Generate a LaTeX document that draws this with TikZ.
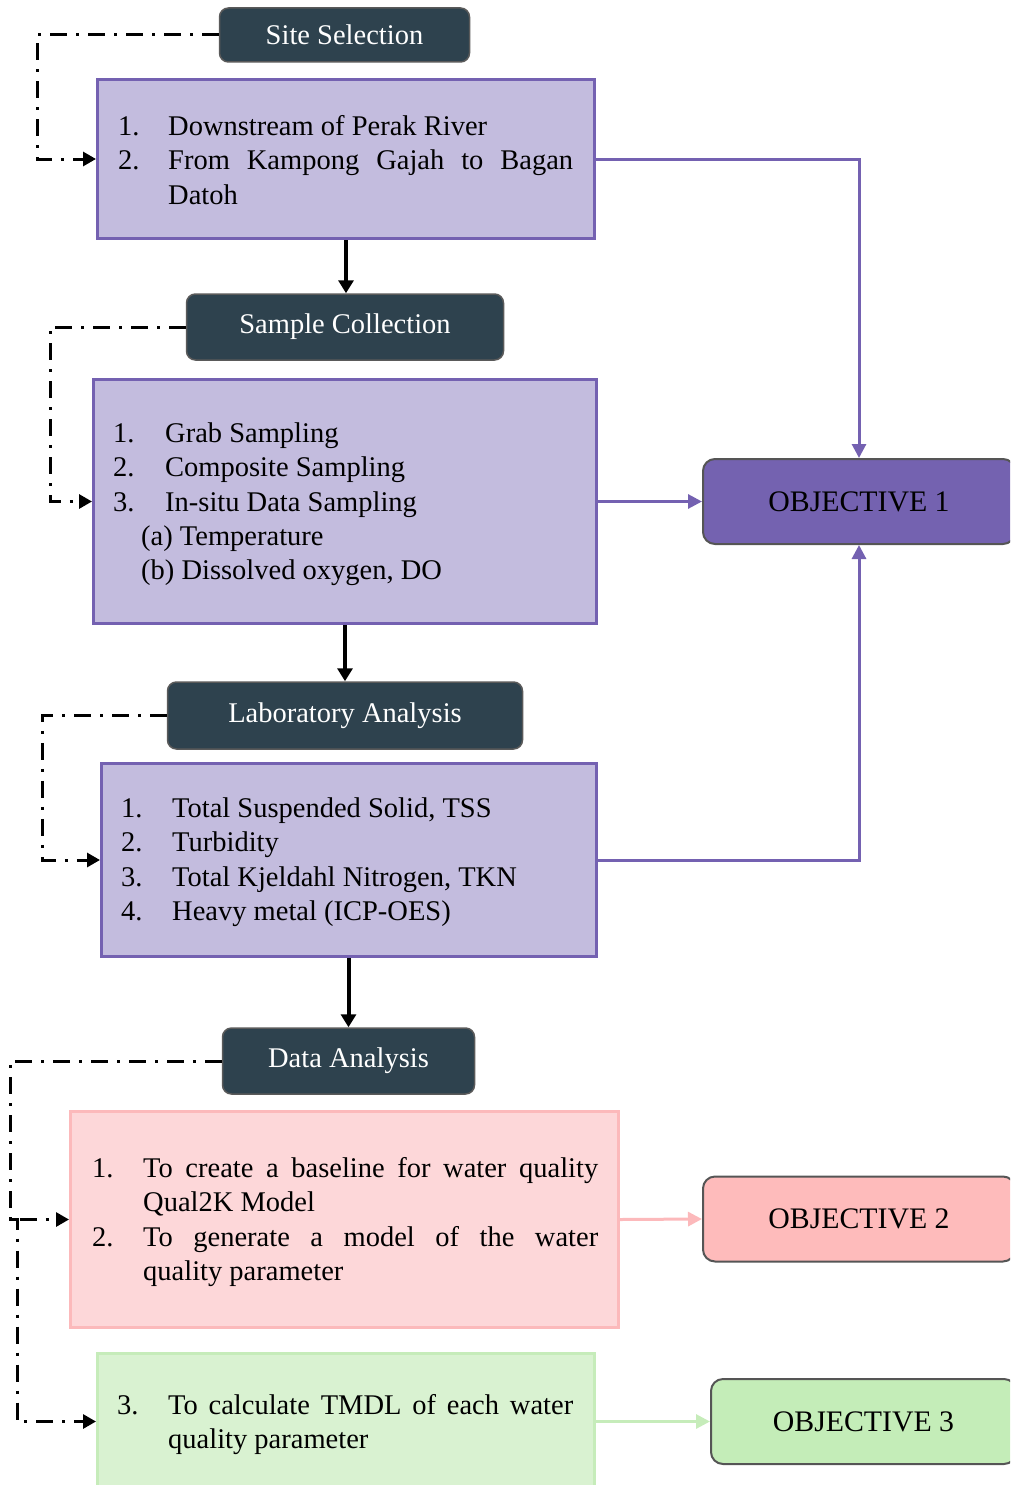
\documentclass[tikz,border=0pt]{standalone}
\usepackage{fontspec}
\setmainfont{Liberation Serif}
\usetikzlibrary{arrows.meta}

\definecolor{hdrfill}{HTML}{2E424E}
\definecolor{hdrline}{HTML}{5A5A5A}
\definecolor{purpfill}{HTML}{C3BCDE}
\definecolor{purpline}{HTML}{7461B1}
\definecolor{objpurp}{HTML}{7462B0}
\definecolor{pinkfill}{HTML}{FDD7D9}
\definecolor{pinkline}{HTML}{FCB9BB}
\definecolor{objpink}{HTML}{FEBBBB}
\definecolor{greenfill}{HTML}{D9F2D1}
\definecolor{greenline}{HTML}{C6ECBA}
\definecolor{objgreen}{HTML}{C4EDB8}
\definecolor{objline}{HTML}{555555}

\newcommand\bodyfont{\fontsize{28.5}{34.3}\selectfont}
\newcommand\objfont{\fontsize{29.8}{34.3}\selectfont}
\newlength\itemhang
% first entry of a list: no paragraph break before it
\newcommand\firstitem[2]{\hangindent=\itemhang\hangafter=1\noindent\makebox[\itemhang][l]{#1}#2}
\newcommand\numitem[2]{\par\hangindent=\itemhang\hangafter=1\noindent\makebox[\itemhang][l]{#1}#2}
\newcommand\subentry[1]{\par\noindent\hspace*{28pt}#1}

\tikzset{
  hdrbox/.style={draw=hdrline, line width=1.5pt, fill=hdrfill, rounded corners=9pt,
    text=white, font=\bodyfont, inner sep=0pt},
  listbox/.style={line width=3pt, inner sep=0pt},
  objbox/.style={draw=objline, line width=2pt, rounded corners=12pt, font=\objfont,
    inner sep=0pt, minimum height=85pt},
  listtext/.style={anchor=base west, inner sep=0pt, font=\bodyfont, align=justify},
  flow/.style={line width=4pt, -{Triangle[length=13pt,width=15pt]}},
  objlink/.style={line width=3pt, -{Triangle[length=14pt,width=14pt]}},
  link/.style={line width=3pt, dash pattern=on 17pt off 9pt on 3pt off 9pt,
    -{Triangle[length=13pt,width=14pt]}},
}

\begin{document}
\begin{tikzpicture}[x=1pt, y=-1pt]
\useasboundingbox (0,0) rectangle (1010,1485);
\clip (0,0) rectangle (1010,1485);
\tolerance=10000 \hbadness=10000

% stage headers
\node[hdrbox, minimum width=250pt, minimum height=54pt] (ss) at (344.5,35) {Site Selection};
\node[hdrbox, minimum width=317pt, minimum height=66pt] (sc) at (345,327) {Sample Collection};
\node[hdrbox, minimum width=355pt, minimum height=67pt] (la) at (345,715.5) {Laboratory Analysis};
\node[hdrbox, minimum width=252pt, minimum height=66pt] (da) at (348.5,1061) {Data Analysis};

% content boxes
\node[listbox, draw=purpline, fill=purpfill, minimum width=497pt, minimum height=159pt] (box1) at (346,159) {};
\node[listbox, draw=purpline, fill=purpfill, minimum width=503pt, minimum height=244pt] (box2) at (345,501.5) {};
\node[listbox, draw=purpline, fill=purpfill, minimum width=495pt, minimum height=193pt] (box3) at (349,860) {};
\node[listbox, draw=pinkline, fill=pinkfill, minimum width=548pt, minimum height=216pt] (box4) at (344.5,1219.5) {};
\node[listbox, draw=greenline, fill=greenfill, minimum width=497pt, minimum height=180pt] (box5) at (346,1443) {};

% objectives
\node[objbox, fill=objpurp, minimum width=312pt] (obj1) at (859,501.5) {OBJECTIVE 1};
\node[objbox, fill=objpink, minimum width=312pt] (obj2) at (859,1219) {OBJECTIVE 2};
\node[objbox, fill=objgreen, minimum width=305pt] (obj3) at (863.5,1421.5) {OBJECTIVE 3};

% box texts
\node[listtext, text width=455pt] (t1) at (118,135.5) {\setlength\itemhang{50pt}%
  \firstitem{1.}{Downstream of Perak River}%
  \numitem{2.}{From Kampong Gajah to Bagan\linebreak Datoh}\par};
\node[listtext, text width=440pt] (t2) at (113,442.5) {\setlength\itemhang{52pt}%
  \firstitem{1.}{Grab Sampling}%
  \numitem{2.}{Composite Sampling}%
  \numitem{3.}{In-situ Data Sampling}%
  \subentry{(a) Temperature}%
  \subentry{(b) Dissolved oxygen, DO}\par};
\node[listtext, text width=460pt] (t3) at (121,817.5) {\setlength\itemhang{51pt}%
  \firstitem{1.}{Total Suspended Solid, TSS}%
  \numitem{2.}{Turbidity}%
  \numitem{3.}{Total Kjeldahl Nitrogen, TKN}%
  \numitem{4.}{Heavy metal (ICP-OES)}\par};
\node[listtext, text width=506pt] (t4) at (92,1177.5) {\setlength\itemhang{51pt}%
  \firstitem{1.}{To create a baseline for water quality\linebreak Qual2K Model}%
  \numitem{2.}{To generate a model of the water\linebreak quality parameter}\par};
\node[listtext, text width=456pt] (t5) at (117,1414.5) {\setlength\itemhang{51pt}%
  \firstitem{3.}{To calculate TMDL of each water\linebreak quality parameter}\par};

% main flow
\draw[flow] (box1.south) -- (box1.south |- sc.north);
\draw[flow] (box2.south) -- (box2.south |- la.north);
\draw[flow] (box3.south -| da.north) -- (da.north);

% links to objectives
\draw[objlink, purpline] (box1.east) -- (box1.east -| obj1.north) -- (obj1.north);
\draw[objlink, purpline] (box2.east) -- (obj1.west);
\draw[objlink, purpline] (box3.east) -- (box3.east -| obj1.south) -- (obj1.south);
\draw[objlink, pinkline] (box4.east) -- (obj2.west);
\draw[objlink, greenline] (box5.east |- obj3.west) -- (obj3.west);

% dash-dot feeders from headers to boxes
\coordinate (k1) at (37,35);
\coordinate (k2) at (50,327);
\coordinate (k3) at (42,715.5);
\coordinate (k4) at (10,1061);
\coordinate (k5) at (10,1219.5);
\coordinate (k6) at (17,1219.5);
\draw[link] (ss.west) -- (k1) |- (box1.west);
\draw[link] (sc.west) -- (k2) |- (box2.west);
\draw[link] (la.west) -- (k3) |- (box3.west);
\draw[link] (da.west) -- (k4) |- (box4.west);
\draw[link] (k5) -- (k6) |- (box5.west |- obj3.west);
\end{tikzpicture}
\end{document}
